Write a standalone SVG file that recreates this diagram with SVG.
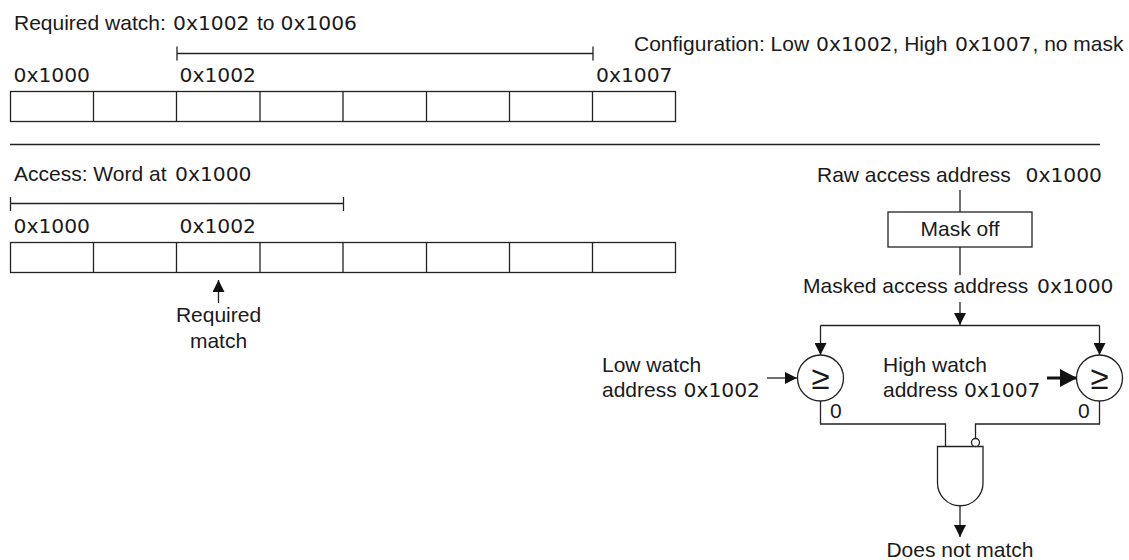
<svg xmlns="http://www.w3.org/2000/svg" width="1129" height="560" viewBox="0 0 1129 560">
<style>
text{font-family:"Liberation Sans",Arial,sans-serif;font-size:21px;fill:#1a1a1a}
.h{font-family:"DejaVu Sans",sans-serif;font-size:20.3px}
.m{text-anchor:middle}
.l{fill:none;stroke:#222;stroke-width:1.3}
.c{fill:#fff;stroke:#222;stroke-width:1.3}
.g{font-size:33px;text-anchor:middle}
</style>
<defs>
<marker id="a" markerUnits="userSpaceOnUse" markerWidth="13" markerHeight="12" refX="12" refY="6" orient="auto"><path d="M0 0L12 6L0 12Z" fill="#111"/></marker>
<marker id="b" markerUnits="userSpaceOnUse" markerWidth="17" markerHeight="18" refX="17" refY="9" orient="auto"><path d="M0 0L17 9L0 18Z" fill="#111"/></marker>
<g id="cells"><rect class="c" x="10.5" y="0.5" width="665" height="30"/><path class="l" d="M93.500 0.5v30M176.500 0.5v30M260 0.5v30M343 0.5v30M426.500 0.5v30M509.500 0.5v30M592.500 0.5v30"/></g>
</defs>
<g id="top-memory">
<text x="14" y="30">Required watch: <tspan class="h" x="173">0x1002</tspan><tspan x="257">to</tspan> <tspan class="h" x="280.500">0x1006</tspan></text>
<text x="634" y="51">Configuration: Low <tspan class="h" x="816">0x1002</tspan><tspan x="892.500">, High </tspan><tspan class="h" x="955">0x1007</tspan><tspan x="1032.500">, no mask</tspan></text>
<path class="l" d="M177 53.500H593M177 46.500v14M593 46.500v14"/>
<text class="h" x="13.500" y="82">0x1000</text><text class="h" x="179.500" y="82">0x1002</text><text class="h" x="596" y="82">0x1007</text>
<use href="#cells" y="91"/>
</g>
<path id="divider" class="l" d="M10 144.500H1100"/>
<g id="access-memory">
<text x="14" y="181">Access: Word at <tspan class="h" x="175">0x1000</tspan></text>
<path class="l" d="M10.500 203.500H344M10.500 197v14M343.500 197v14"/>
<text class="h" x="13.500" y="233">0x1000</text><text class="h" x="179.500" y="233">0x1002</text>
<use href="#cells" y="242"/>
<text class="m" x="218.500" y="322">Required</text><text class="m" x="218.500" y="348">match</text>
</g>
<g id="connectors">
<path class="l" marker-end="url(#a)" d="M218.500 303V280"/>
<path class="l" d="M960 190V212M960 247V275"/>
<path class="l" marker-end="url(#a)" d="M960 302V325"/>
<path class="l" marker-end="url(#a)" d="M820.500 325.500V355"/>
<path class="l" marker-end="url(#a)" d="M1099.500 325.500V355"/>
<path class="l" d="M820.500 325.500H1099.500"/>
<path class="l" marker-end="url(#a)" d="M767 378H797"/>
<path style="fill:none;stroke:#111;stroke-width:3" marker-end="url(#b)" d="M1047 378H1077"/>
<path class="l" d="M820.500 401V424H945.500V446M1099.500 401V424H975.500V438"/>
<path class="l" marker-end="url(#a)" d="M960 506V537"/>
</g>
<g id="mask"><rect class="c" x="888" y="212" width="144" height="35"/><text class="m" x="960" y="236">Mask off</text></g>
<text x="817" y="182" id="raw">Raw access address <tspan class="h" x="1025.500">0x1000</tspan></text>
<text x="803" y="293" id="masked">Masked access address <tspan class="h" x="1037">0x1000</tspan></text>
<g id="low-compare"><circle class="c" cx="820.500" cy="378" r="23"/><text class="g" x="820.500" y="389">≥</text>
<text x="602" y="372">Low watch</text><text x="602" y="397">address <tspan class="h" x="683.500">0x1002</tspan></text><text x="830" y="418">0</text></g>
<g id="high-compare"><circle class="c" cx="1099.500" cy="378" r="23"/><text class="g" x="1099.500" y="389">≥</text>
<text x="883" y="372">High watch</text><text x="883" y="397">address <tspan class="h" x="964">0x1007</tspan></text><text x="1078" y="418">0</text></g>
<g id="gate"><path class="c" d="M937.500 446.500H983V483A22.750 22.750 0 0 1 937.500 483Z"/><circle class="c" cx="975.500" cy="442.500" r="4"/></g>
<text class="m" x="960" y="557" id="result">Does not match</text>
</svg>
